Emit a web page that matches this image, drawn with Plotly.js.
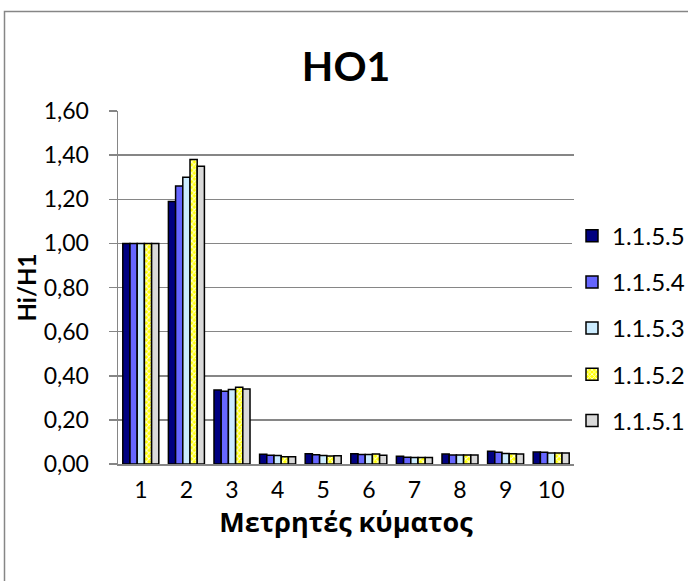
<!DOCTYPE html>
<html><head><meta charset="utf-8">
<script src="https://cdn.plot.ly/plotly-3.0.1.min.js"></script>
<style>html,body{margin:0;padding:0;background:#fff}#chart{width:688px;height:581px}</style>
</head><body><div id="chart"></div>
<script>
const categories = ['1','2','3','4','5','6','7','8','9','10'];
const seriesNames = ['1.1.5.5','1.1.5.4','1.1.5.3','1.1.5.2','1.1.5.1'];
const s1155 = [1.00, 1.19, 0.335, 0.044, 0.046, 0.046, 0.035, 0.045, 0.058, 0.054];
const s1154 = [1.00, 1.26, 0.330, 0.040, 0.042, 0.043, 0.031, 0.041, 0.053, 0.053];
const s1153 = [1.00, 1.30, 0.338, 0.038, 0.038, 0.043, 0.030, 0.041, 0.048, 0.050];
const s1152 = [1.00, 1.38, 0.348, 0.033, 0.036, 0.045, 0.030, 0.041, 0.046, 0.050];
const s1151 = [1.00, 1.35, 0.340, 0.033, 0.037, 0.040, 0.030, 0.041, 0.045, 0.050];
const seriesValues = [s1155, s1154, s1153, s1152, s1151];
const colors = ['#000080', '#6666FF', '#CCECFF', '#FFFF00', '#D9D9D9'];

const font = 'Lato, "Open Sans", sans-serif';
const gfont = '"Open Sans", "Noto Sans", sans-serif';
const traces = seriesNames.map((n, i) => {
  const t = {
    type: 'bar', name: n, x: categories, y: seriesValues[i],
    legendgroup: 'g' + i,
    marker: { color: colors[i], line: { color: '#000000', width: 1.5 } },
    hoverinfo: 'y'
  };
  if (i === 3) {
    t.marker.pattern = { shape: 'x', bgcolor: '#FFFF00', fgcolor: '#FFFFE0', size: 4, solidity: 0.45 };
  }
  return t;
});

const ml = 118, mr = 114, mt = 111, mb = 117;
const pw = 688 - ml - mr, ph = 581 - mt - mb;

const layout = {
  width: 688, height: 581,
  margin: { l: ml, r: mr, t: mt, b: mb, autoexpand: false },
  paper_bgcolor: '#ffffff', plot_bgcolor: '#ffffff',
  separators: ',.',
  font: { family: font, size: 23, color: '#000000' },
  title: { text: '<b>HO1</b>', x: 0.503, xanchor: 'center', y: 0.885, yanchor: 'middle',
           font: { family: font, size: 41, color: '#000000' } },
  barmode: 'group', bargap: 0.21, bargroupgap: 0,
  showlegend: true,
  legend: { x: 0.9956, xanchor: 'left', y: 0.385, yanchor: 'middle',
            font: { family: font, size: 24, color: '#000000' },
            tracegroupgap: 12, traceorder: 'grouped', itemwidth: 30 },
  xaxis: {
    type: 'category', showgrid: false, zeroline: false,
    showline: true, linecolor: '#868686', linewidth: 1.5,
    ticks: '', ticklabelstandoff: 5, tickfont: { family: font, size: 23, color: '#000000' },
    title: { text: '<b>Μετρητές κύματος</b>', standoff: 8, font: { family: gfont, size: 27, color: '#000000' } }
  },
  yaxis: {
    range: [0, 1.6], dtick: 0.2, tick0: 0, tickformat: '.2f',
    showgrid: true, gridcolor: '#868686', gridwidth: 1.5,
    zeroline: false, showline: true, linecolor: '#868686', linewidth: 1.5,
    ticks: 'outside', ticklen: 8, tickcolor: '#868686', tickwidth: 1.5,
    ticklabelstandoff: 15,
    tickfont: { family: font, size: 23, color: '#000000' },
    title: { text: '<b>Hi/H1</b>', standoff: 0, font: { family: font, size: 24, color: '#000000' } }
  },
  shapes: [{
    type: 'rect', xref: 'paper', yref: 'paper',
    x0: (4.5 - ml) / pw, x1: (720 - ml) / pw,
    y0: (ph + mt - 620) / ph, y1: (ph + mt - 11.5) / ph,
    line: { color: '#868686', width: 1.5 }, fillcolor: 'rgba(0,0,0,0)', layer: 'below'
  }]
};

Plotly.newPlot('chart', traces, layout, { displayModeBar: false, staticPlot: true });
</script>
</body></html>
